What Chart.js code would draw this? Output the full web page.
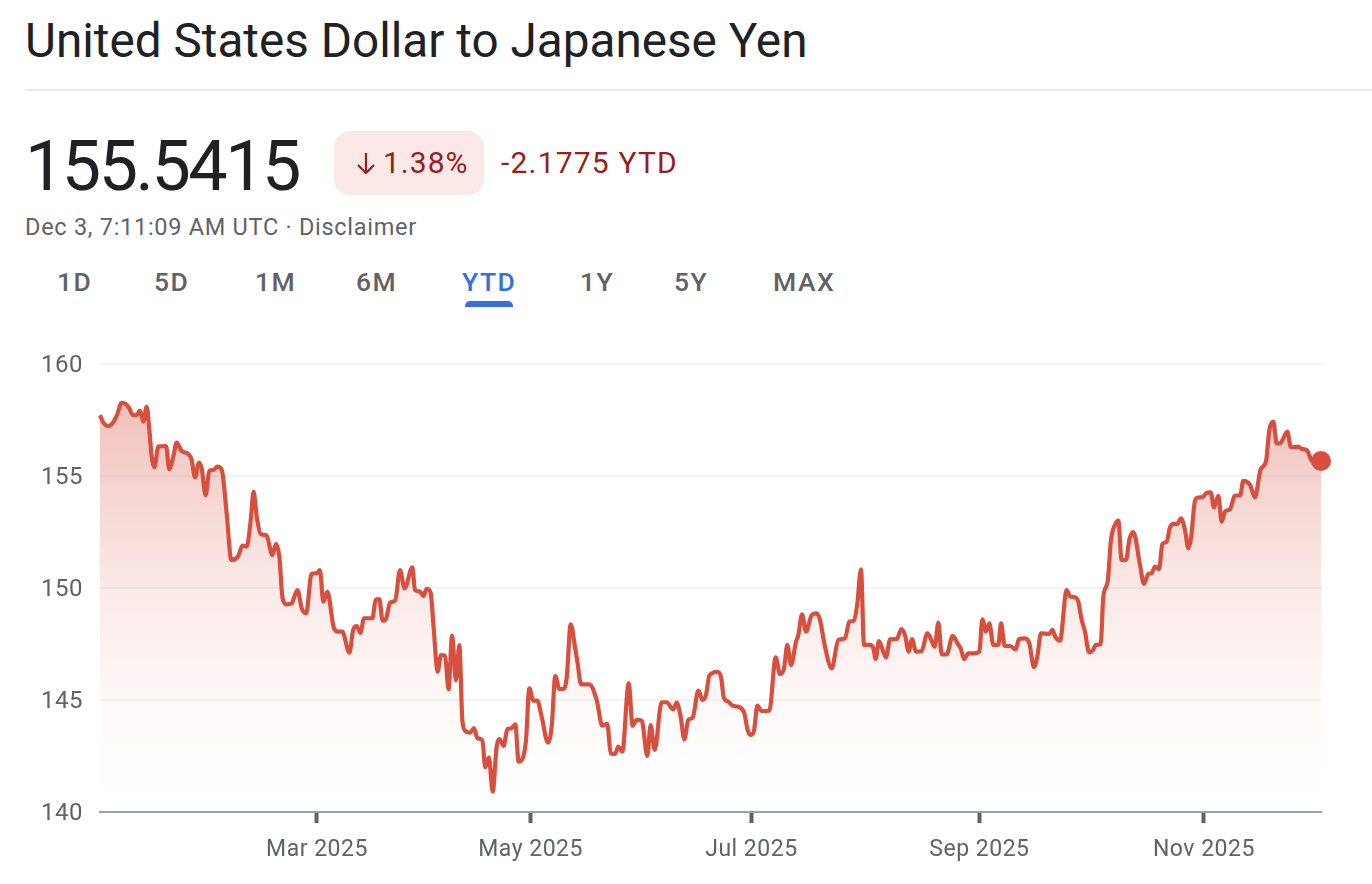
<!DOCTYPE html>
<html><head><meta charset="utf-8">
<style>
html,body{margin:0;padding:0;background:#fff;width:1372px;height:884px;overflow:hidden;font-family:Roboto,sans-serif}
div.t{position:absolute;white-space:nowrap}
#c{position:absolute;left:0;top:340px}
</style></head><body>
<div class="t" style="left:25px;top:14px;font-size:47.7px;line-height:54px;color:#202124">United States Dollar to Japanese Yen</div>
<div style="position:absolute;left:25px;top:89px;width:1347px;height:2px;background:#e8eaed"></div>
<div class="t" style="left:25px;top:126px;font-size:70px;letter-spacing:-2.5px;line-height:80px;color:#202124">155.5415</div>
<div style="position:absolute;left:334px;top:131px;width:150px;height:64px;border-radius:16px;background:#fae9e6"></div>
<svg style="position:absolute;left:355px;top:150px" width="22" height="26" viewBox="0 0 22 26"><path d="M11 3V23M3 15L11 23L19 15" fill="none" stroke="#98201a" stroke-width="2.2"/></svg>
<div class="t" style="left:383px;top:146px;font-size:30px;letter-spacing:1px;line-height:34px;color:#98201a">1.38%</div>
<div class="t" style="left:501px;top:146px;font-size:30px;letter-spacing:1.2px;line-height:34px;color:#98201a">-2.1775 YTD</div>
<div class="t" style="left:25px;top:213px;font-size:23.5px;letter-spacing:.72px;line-height:28px;color:#5f6368">Dec 3, 7:11:09 AM UTC · Disclaimer</div>
<div id="tabs"></div>
<div style="position:absolute;left:465px;top:301px;width:48px;height:6px;border-radius:5px 5px 0 0;background:#3271e0"></div>
<canvas id="c" width="1372" height="544" style="width:1372px;height:544px"></canvas>
<script src="https://cdn.jsdelivr.net/npm/chart.js@4"></script>
<script>
const tabLabels=["1D","5D","1M","6M","YTD","1Y","5Y","MAX"];
const tabLefts=[57,154,255,356,462,580,674,773];
const yTicks=[140,145,150,155,160];
const xTickDays=[59,118,179,242,304];
const xTickLabels=["Mar 2025","May 2025","Jul 2025","Sep 2025","Nov 2025"];
const days=[-0.94,-0.02,1.36,2.3,3.67,5.05,6.24,7.17,8.09,9.19,10.1,11.03,11.95,12.7,13.33,14.07,15.18,17.3,18.2,19.3,20.24,21.6,23.46,24.4,25.3,26.4,27.15,28.25,29.26,30.4,31.5,32.7,34.05,35.34,37.28,38.4,39.6,40.7,41.5,42.35,43.45,45.1,46.67,47.7,48.6,49.5,50.6,52,53.6,54.8,56,57.5,58.9,59.8,60.76,61.86,63.7,64.9,66,67.94,69,70,71,72,74.3,75.2,76.2,77.15,78,79.2,80.6,
81.93,83.2,85.34,86.07,87.45,88.4,89.3,90.4,91.14,92.34,93.26,94.36,95.37,96.3,97.4,98.32,99.15,99.9,101.27,102.37,103.3,104.67,105.5,106.5,107.53,108.63,109.37,110.57,111.58,112.6,113.8,114.7,115.7,116.74,117.66,118.76,119.87,121.06,122.8,123.83,124.84,125.95,127.05,127.97,129.08,130.27,131,131.93,134.23,136.26,137.82,139.2,140.13,141.32,142.24,143.35,145.1,146.2,147.3,148.7,150.25,151.17,152.28,154.2,155.6,157.4,158.36,159.46,160.48,161.58,162.78,164.34,165.54,166.46,167.38,169.6,
170.6,171.44,172.63,173.74,175.86,177.05,177.98,178.8,179.72,180.65,181.84,183.96,185.71,186.9,188.01,188.93,189.95,191.33,191.97,192.99,194.09,195.66,197.04,197.96,199.34,201.18,203.02,204.86,206.06,207.35,208.27,209.28,210.11,211.77,212.69,213.33,214.25,215.27,216.19,217.3,219.14,220.43,221.44,222.45,223.37,224.48,226.04,227.6,228.53,229.63,230.65,231.57,232.95,234.6,236.17,236.81,237.74,238.93,240.31,241.97,242.8,243.81,244.73,245.84,247.22,247.96,248.97,250.44,252,252.93,
254.59,255.78,257.07,257.99,259,261.3,262.13,263.05,264.25,266.09,267.01,268.39,269.31,270.23,271.16,272.26,273.27,274.19,275.48,276.22,277.42,278.34,279.44,280.36,281.28,282.48,283.4,284.51,286.35,287.45,288.65,289.57,290.49,291.6,292.52,293.72,294.64,295.74,296.66,297.68,298.78,299.7,300.44,301.54,302.46,303.66,304.58,305.87,306.79,308,308.91,309.83,311.21,312.59,313.97,314.9,316.74,318.12,319.68,321.15,322.08,323.18,324.1,325.02,327.05,328.06,330.09,331,332.39,334.04,336.35];
const prices=[157.72,157.38,157.23,157.31,157.68,158.27,158.21,158.02,157.72,157.72,157.92,157.43,158.10,157.05,155.86,155.39,156.31,156.34,155.30,155.86,156.49,156.12,155.98,155.71,154.94,155.6,155.34,154.14,155.24,155.27,155.42,155.27,153.33,151.25,151.44,151.89,151.85,153.04,154.30,153.19,152.41,152.34,151.47,151.97,151.4,149.54,149.27,149.32,149.91,149.09,148.87,150.63,150.66,150.8,149.39,149.84,148.2,148.05,148.05,147.11,148.13,148.3,148,148.65,148.65,149.47,149.5,148.54,148.6,149.35,149.44,
150.8,149.98,150.92,149.91,149.84,149.64,149.96,149.79,148.42,146.27,147.01,146.98,145.48,147.86,145.89,147.45,144.11,143.63,143.54,143.74,143.29,143.21,141.99,142.44,140.91,142.92,143.26,142.95,143.7,143.73,143.91,142.25,142.35,143.21,145.52,144.97,144.97,144.26,143.1,143.81,146.07,145.49,145.49,145.97,148.38,147.38,146.64,145.7,145.7,145,143.85,143.93,142.62,142.59,142.92,142.69,145.74,143.85,144.11,144.08,142.5,143.88,142.77,144.9,144.9,144.58,144.88,144.26,143.24,144.11,144.21,145.42,145,145.22,146.09,146.26,
146.04,145.07,144.93,144.75,144.67,144.4,143.66,143.44,143.63,144.75,144.51,144.52,146.9,146.16,146.41,147.46,146.56,147.6,147.9,148.82,148.05,148.79,148.87,148.57,147.38,146.41,147.68,147.75,148.5,148.54,149.32,150.83,147.46,147.46,147.31,146.83,147.63,147.23,146.9,147.71,147.72,148.17,147.9,147.16,147.72,147.16,147.19,147.98,147.75,147.38,148.45,147.04,147.04,147.86,147.46,147.31,146.83,147.08,147.08,147.16,148.6,148.05,148.42,147.46,147.46,148.42,147.41,147.41,147.26,147.72,
147.75,147.53,146.46,146.94,147.98,147.95,148.13,147.8,147.65,149.91,149.62,149.59,149.39,148.58,148.05,147.13,147.21,147.46,147.49,149.62,150.29,152.15,152.82,153.01,151.25,151.25,152.15,152.49,151.03,150.18,150.63,150.66,150.96,150.84,151.95,152.07,152.71,152.86,152.86,153.11,152.59,151.77,152.22,153.9,154.04,154.05,154.23,154.27,153.6,154.11,152.96,153.41,153.52,154.13,154.13,154.78,154.6,154.05,155.3,155.64,157.06,157.43,156.46,156.46,156.98,156.28,156.31,156.21,156.16,155.64,155.67];

tabLabels.forEach((s,i)=>{const d=document.createElement('div');d.className='t';d.textContent=s;
 d.style.cssText=`left:${tabLefts[i]}px;top:266px;font-size:26.5px;line-height:32px;font-weight:500;letter-spacing:1.5px;color:${s==='YTD'?'#3271e0':'#5f6368'}`;
 document.body.appendChild(d);});

const lineColor='#d94f3e', tickGrey='#5f6368';
const spacing={id:'spacing',beforeDraw(ch){ch.ctx.letterSpacing='0.5px';}};
new Chart(document.getElementById('c'),{
 type:'line',
 plugins:[spacing],
 data:{datasets:[{
  data:days.map((d,i)=>({x:d,y:prices[i]})),
  borderColor:lineColor,borderWidth:4.2,
  cubicInterpolationMode:'monotone',
  clip:false,fill:'start',
  backgroundColor(ctx){
   const a=ctx.chart.chartArea;if(!a)return 'transparent';
   const g=ctx.chart.ctx.createLinearGradient(0,a.top+36,0,a.bottom-12);
   g.addColorStop(0,'rgba(217,79,62,0.36)');
   g.addColorStop(.19,'rgba(217,79,62,0.26)');
   g.addColorStop(.47,'rgba(217,79,62,0.12)');
   g.addColorStop(.75,'rgba(217,79,62,0.035)');
   g.addColorStop(.9,'rgba(217,79,62,0.01)');
   g.addColorStop(1,'rgba(217,79,62,0)');
   return g;},
  pointRadius:c=>c.dataIndex===days.length-1?10:0,
  pointBackgroundColor:lineColor,pointBorderWidth:0,pointHoverRadius:0
 }]},
 options:{
  responsive:false,animation:false,devicePixelRatio:1,
  layout:{padding:{left:0,right:51,top:24,bottom:0}},
  plugins:{legend:{display:false},tooltip:{enabled:false}},
  scales:{
   x:{type:'linear',min:days[0],max:days[days.length-1],
    afterBuildTicks:s=>{s.ticks=xTickDays.map(v=>({value:v}));},
    afterFit:s=>{s.height=72;s.paddingLeft=0;s.paddingRight=0;},
    grid:{drawOnChartArea:false,drawTicks:true,tickLength:11,tickWidth:4,tickColor:'#5f6368'},
    border:{color:'#9aa0a6',width:2},
    ticks:{autoSkip:false,maxRotation:0,padding:13,color:tickGrey,font:{family:'Roboto',size:23},
     callback:v=>xTickLabels[xTickDays.indexOf(v)]}},
   y:{min:140,max:160,
    afterBuildTicks:s=>{s.ticks=yTicks.map(v=>({value:v}));},
    afterFit:s=>{s.width=100;s.paddingTop=0;s.paddingBottom=0;},
    grid:{drawTicks:false,lineWidth:2,color:c=>c.tick&&c.tick.value===140?'transparent':'#f1f3f4'},
    border:{display:false},
    ticks:{padding:17,labelOffset:2,color:tickGrey,font:{family:'Roboto',size:24}}}
  }
 }
});
</script></body></html>
